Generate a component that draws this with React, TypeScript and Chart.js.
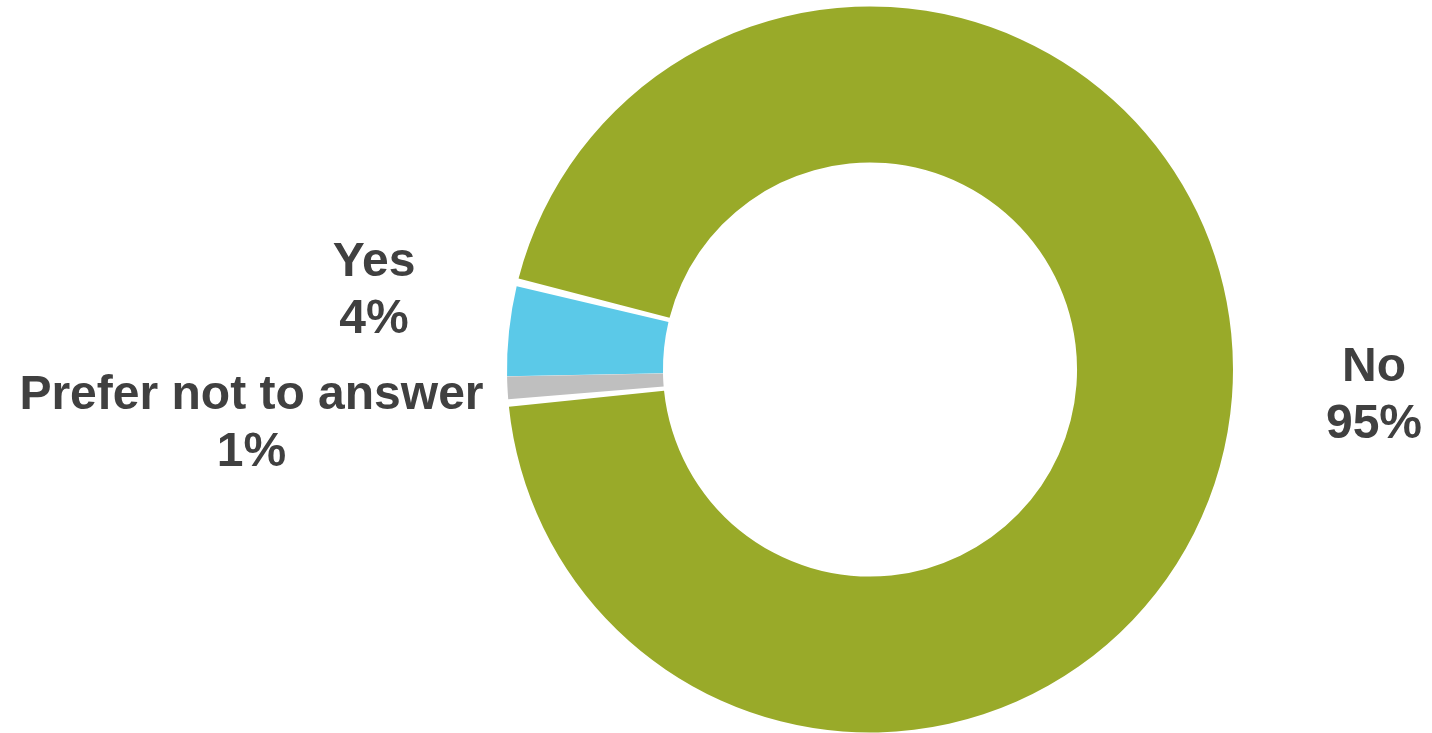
import React, { useEffect, useRef } from "react";
import { Chart, registerables } from "chart.js";

Chart.register(...registerables);

const categories = ["Yes", "No", "Prefer not to answer"];
const values = [4, 95, 1];
const percentLabels = ["4%", "95%", "1%"];
const colors = ["#5BC9E8", "#99AA29", "#BFBFBF"];

// label block offsets relative to the outer mid-point of each slice
const labelOffsets = [
  { dx: -137, dy: -40 },
  { dx: 144, dy: 0 },
  { dx: -258, dy: 37 },
];

const labelPlugin = {
  id: "sliceLabels",
  afterDraw(chart: any) {
    const ctx = chart.ctx;
    const meta = chart.getDatasetMeta(0);
    ctx.save();
    ctx.font = "bold 48px 'Liberation Sans', Arial, sans-serif";
    ctx.fillStyle = "#404040";
    ctx.textAlign = "center";
    ctx.textBaseline = "middle";
    const lineH = 57;
    meta.data.forEach((arc: any, i: number) => {
      const p = arc.getProps(["x", "y", "startAngle", "endAngle", "outerRadius"], true);
      const mid = (p.startAngle + p.endAngle) / 2;
      const ox = p.x + Math.cos(mid) * p.outerRadius;
      const oy = p.y + Math.sin(mid) * p.outerRadius;
      const cx = ox + labelOffsets[i].dx;
      const cy = oy + labelOffsets[i].dy;
      ctx.fillText(categories[i], cx, cy - lineH / 2);
      ctx.fillText(percentLabels[i], cx, cy + lineH / 2);
    });
    ctx.restore();
  },
};

export default function App() {
  const ref = useRef<HTMLCanvasElement>(null);
  useEffect(() => {
    document.body.style.margin = "0";
    const chart = new Chart(ref.current!, {
      type: "doughnut",
      data: {
        labels: categories,
        datasets: [
          {
            data: values,
            backgroundColor: colors,
            borderWidth: 0,
            spacing: 4,
          },
        ],
      },
      options: {
        responsive: false,
        animation: false,
        rotation: 268.9,
        cutout: "56.8%",
        layout: { padding: { left: 507, right: 199, top: 6, bottom: 0 } },
        plugins: {
          legend: { display: false },
          tooltip: { enabled: false },
        },
      },
      plugins: [labelPlugin],
    });
    return () => chart.destroy();
  }, []);
  return (
    <div style={{ position: "absolute", left: 0, top: 0, width: 1432, height: 733, background: "#fff" }}>
      <canvas ref={ref} width={1432} height={733} />
    </div>
  );
}
